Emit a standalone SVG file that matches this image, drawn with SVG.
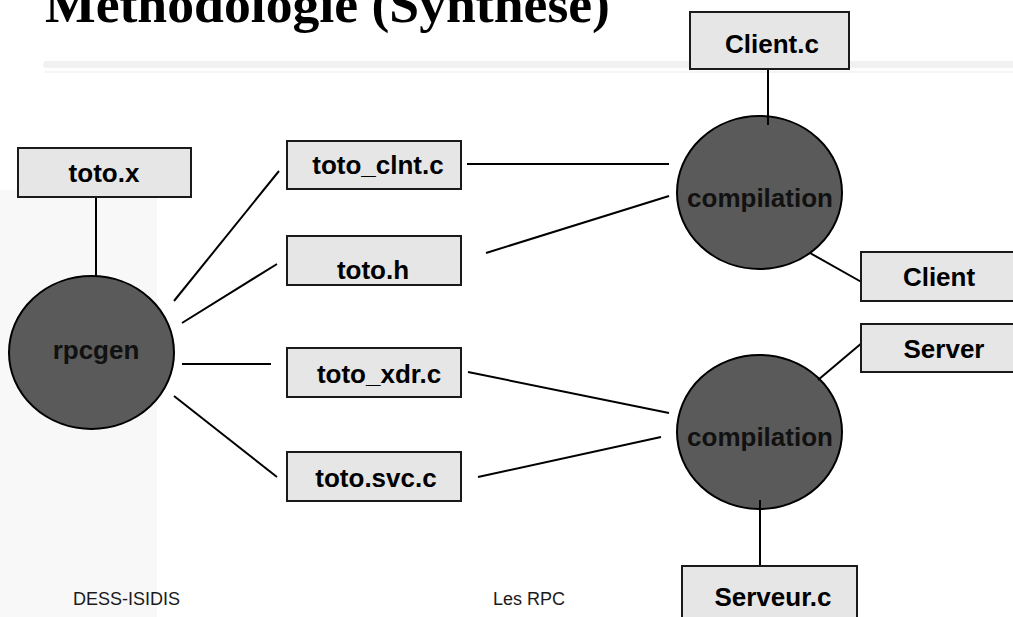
<svg xmlns="http://www.w3.org/2000/svg" width="1013" height="617" viewBox="0 0 1013 617">
<style>
.box{fill:#e6e6e6;stroke:#1a1a1a;stroke-width:2}
.ell{fill:#5a5a5a;stroke:#000;stroke-width:2}
.lbl{font-family:"Liberation Sans",Arial,sans-serif;font-weight:bold;font-size:26px;fill:#000;text-anchor:middle}
.elbl{font-family:"Liberation Sans",Arial,sans-serif;font-weight:bold;font-size:26px;fill:#111;text-anchor:middle}
.foot{font-family:"Liberation Sans",Arial,sans-serif;font-size:18px;fill:#1a1a1a}
.conn line{stroke:#000;stroke-width:2}
</style>
<rect x="0" y="0" width="1013" height="617" fill="#fff"/>
<rect x="0" y="190" width="157" height="427" fill="#f8f8f8"/>
<rect x="43" y="61" width="980" height="7" rx="3.5" fill="#f1f1f1"/>
<rect x="45" y="71" width="968" height="2" fill="#f4f4f4"/>
<text x="45" y="22" font-family="'Liberation Serif','Times New Roman',serif" font-weight="bold" font-size="53" fill="#000" textLength="565" lengthAdjust="spacingAndGlyphs">Methodologie (Synthese)</text>
<g id="rpcgen"><ellipse class="ell" cx="91.5" cy="352.5" rx="82.5" ry="76.5"/><text class="elbl" x="96" y="359">rpcgen</text></g>
<g id="compil1"><ellipse class="ell" cx="759.5" cy="192.5" rx="82.5" ry="76.5"/><text class="elbl" x="760" y="207">compilation</text></g>
<g id="compil2"><ellipse class="ell" cx="759.5" cy="432" rx="82.5" ry="77"/><text class="elbl" x="760" y="446">compilation</text></g>
<g class="conn" id="connectors">
<line x1="96" y1="197" x2="96" y2="276"/>
<line x1="174" y1="301" x2="279" y2="171"/>
<line x1="182" y1="323" x2="277" y2="264"/>
<line x1="182" y1="364" x2="271" y2="364"/>
<line x1="174" y1="396" x2="277" y2="477"/>
<line x1="467" y1="164" x2="669" y2="164"/>
<line x1="486" y1="253" x2="669" y2="196"/>
<line x1="468" y1="372" x2="669" y2="413"/>
<line x1="478" y1="477" x2="661" y2="437"/>
<line x1="768" y1="69" x2="768" y2="125"/>
<line x1="810" y1="253" x2="865" y2="284"/>
<line x1="818" y1="380" x2="863" y2="342"/>
<line x1="760" y1="500" x2="760" y2="566"/>
</g>
<g id="totox"><rect class="box" x="18" y="148" width="173" height="49"/><text class="lbl" x="104" y="182">toto.x</text></g>
<g id="clnt"><rect class="box" x="287" y="141" width="174" height="48"/><text class="lbl" x="378" y="174">toto_clnt.c</text></g>
<g id="totoh"><rect class="box" x="287" y="236" width="174" height="49"/><text class="lbl" x="373" y="279">toto.h</text></g>
<g id="xdr"><rect class="box" x="287" y="348" width="174" height="49"/><text class="lbl" x="379" y="383">toto_xdr.c</text></g>
<g id="svc"><rect class="box" x="287" y="452" width="174" height="49"/><text class="lbl" x="376" y="487">toto.svc.c</text></g>
<g id="clientc"><rect class="box" x="690" y="12" width="159" height="57"/><text class="lbl" x="772" y="53">Client.c</text></g>
<g id="client"><rect class="box" x="861" y="252" width="160" height="49"/><text class="lbl" x="939" y="286">Client</text></g>
<g id="server"><rect class="box" x="861" y="324" width="160" height="48"/><text class="lbl" x="944" y="358">Server</text></g>
<g id="serveurc"><rect class="box" x="682" y="566" width="175" height="60"/><text class="lbl" x="773" y="606">Serveur.c</text></g>
<text class="foot" x="73" y="605">DESS-ISIDIS</text>
<text class="foot" x="493" y="605">Les RPC</text>
</svg>
